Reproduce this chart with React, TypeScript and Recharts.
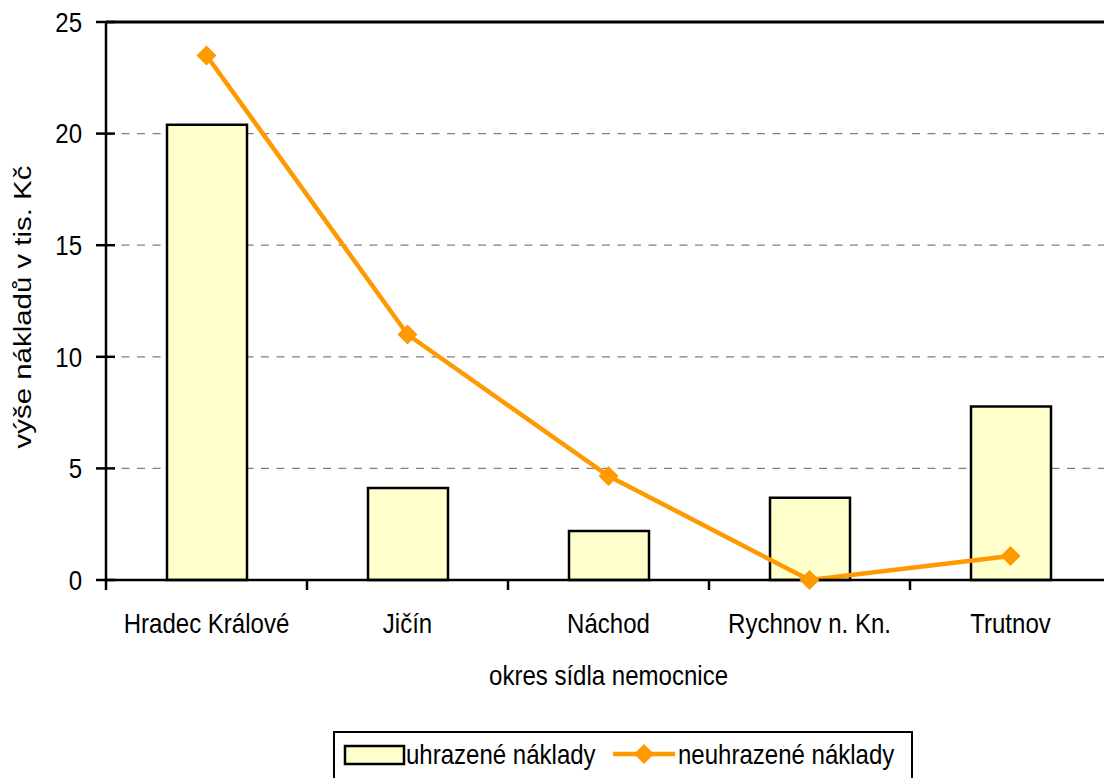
import React from 'react';
import { ComposedChart, Bar, Line, XAxis, YAxis, CartesianGrid, ReferenceLine, Legend, Customized } from 'recharts';

const categories = ['Hradec Králové', 'Jičín', 'Náchod', 'Rychnov n. Kn.', 'Trutnov'];
const paidCosts = [20.4, 4.12, 2.2, 3.68, 7.77];
const unpaidCosts = [23.5, 11.0, 4.66, 0, 1.08];
const yTicks = [0, 5, 10, 15, 20, 25];
const seriesNames = ['uhrazené náklady', 'neuhrazené náklady'];
const xTitle = 'okres sídla nemocnice';
const yTitle = 'výše nákladů v tis. Kč';

const data = categories.map((c, i) => ({ name: c, paid: paidCosts[i], unpaid: unpaidCosts[i] }));

const FONT = '"Liberation Sans", Arial, sans-serif';
const FS = 27;
const ORANGE = '#FF9900';
const BAR_FILL = '#FFFFCC';

const NText = ({ x, y, anchor = 'start', rotate = 0, sx = 0.89, sy = 1, dy, children }: any) => (
  <text
    x={0}
    y={0}
    dy={dy}
    transform={`translate(${x},${y}) rotate(${rotate}) scale(${sx},${sy})`}
    textAnchor={anchor}
    fontFamily={FONT}
    fontSize={FS}
    fill="#000"
  >
    {children}
  </text>
);

const YTick = (props: any) => {
  const { x, y, payload } = props;
  return (
    <g>
      <line x1={x - 10} x2={x + 9} y1={y} y2={y} stroke="#000" strokeWidth={2.5} />
      <NText x={x - 24} y={y} dy="0.36em" anchor="end">{payload.value}</NText>
    </g>
  );
};

const XTick = (props: any) => {
  const { x, y, payload } = props;
  const band = 201;
  return (
    <g>
      <line x1={x - band / 2} x2={x - band / 2} y1={y} y2={y + 10} stroke="#000" strokeWidth={2.5} />
      <NText x={x} y={y + 53} anchor="middle">{payload.value}</NText>
    </g>
  );
};

const Diamond = (props: any) => {
  const { cx, cy } = props;
  if (cx == null || cy == null) return null;
  const r = 10;
  return <polygon points={`${cx},${cy - r} ${cx + r},${cy} ${cx},${cy + r} ${cx - r},${cy}`} fill={ORANGE} stroke="none" />;
};

const LegendContent = () => (
  <div style={{ width: 580, height: 60, border: '2px solid #000', boxSizing: 'border-box', background: '#fff', position: 'relative' }}>
    <svg width={576} height={56} style={{ position: 'absolute', left: 0, top: 0 }}>
      <rect x={10} y={13} width={59} height={18} fill={BAR_FILL} stroke="#000" strokeWidth={2.5} />
      <NText x={71} y={31}>{seriesNames[0]}</NText>
      <line x1={278} x2={340} y1={21} y2={21} stroke={ORANGE} strokeWidth={4.5} />
      <polygon points="309,11 319,21 309,31 299,21" fill={ORANGE} />
      <NText x={343} y={31}>{seriesNames[1]}</NText>
    </svg>
  </div>
);

const Titles = () => (
  <g>
    <NText x={608.5} y={685} anchor="middle">{xTitle}</NText>
    <NText x={31} y={307} anchor="middle" rotate={-90} sx={1.09} sy={0.92}>{yTitle}</NText>
  </g>
);

export default function App() {
  return (
    <div style={{ position: 'fixed', left: 0, top: 0, width: 1104, height: 778, overflow: 'hidden', background: '#fff' }}>
      <ComposedChart
        width={1120}
        height={778}
        data={data}
        margin={{ top: 22, right: 9, bottom: 138, left: 46 }}
        barCategoryGap={0}
      >
        <CartesianGrid vertical={false} stroke="#808080" strokeWidth={1.3} strokeDasharray="8 7.5" />
        <XAxis
          dataKey="name"
          height={60}
          tickSize={0}
          tickMargin={0}
          tickLine={false}
          tick={<XTick />}
          axisLine={{ stroke: '#000', strokeWidth: 2.5 }}
          interval={0}
        />
        <YAxis
          width={60}
          domain={[0, 25]}
          ticks={yTicks}
          tickSize={0}
          tickMargin={0}
          tickLine={false}
          tick={<YTick />}
          axisLine={{ stroke: '#000', strokeWidth: 2.5 }}
          allowDecimals={false}
        />
        <ReferenceLine y={25} stroke="#000" strokeWidth={3} />
        <Bar dataKey="paid" name={seriesNames[0]} fill={BAR_FILL} stroke="#000" strokeWidth={2.5} barSize={80} isAnimationActive={false} />
        <Line dataKey="unpaid" name={seriesNames[1]} stroke={ORANGE} strokeWidth={4.5} dot={<Diamond />} activeDot={false} isAnimationActive={false} />
        <Legend
          layout="vertical"
          verticalAlign="middle"
          align="center"
          content={<LegendContent />}
          wrapperStyle={{ left: 333, top: 731, right: 'auto', bottom: 'auto', width: 580, height: 60 }}
        />
        <Customized component={<Titles />} />
      </ComposedChart>
    </div>
  );
}
